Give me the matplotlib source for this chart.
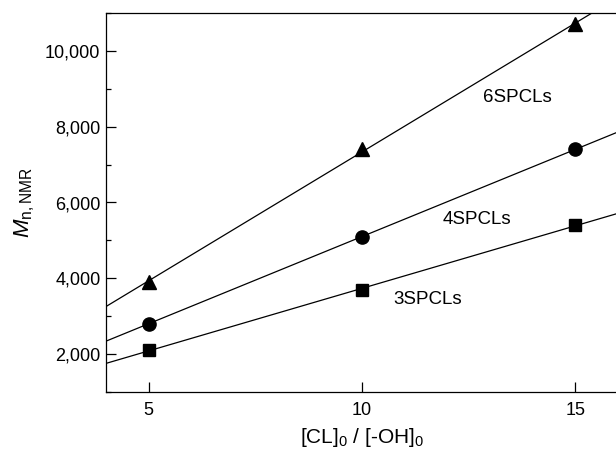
import matplotlib
matplotlib.use("Agg")
import matplotlib.pyplot as plt
import numpy as np
from matplotlib.ticker import FuncFormatter, MultipleLocator

plt.rcParams['font.family'] = ['Liberation Sans', 'DejaVu Sans']
plt.rcParams['mathtext.fontset'] = 'custom'
plt.rcParams['mathtext.rm'] = 'Liberation Sans'
plt.rcParams['mathtext.it'] = 'Liberation Sans:italic'
plt.rcParams['xtick.direction'] = 'in'
plt.rcParams['ytick.direction'] = 'in'

# ratio [CL]0/[-OH]0
ratio = [5, 10, 15]
# Mn,NMR per series
mn_6spcl = [3900, 7400, 10700]
mn_4spcl = [2800, 5100, 7400]
mn_3spcl = [2100, 3700, 5400]
series_names = ['6SPCLs', '4SPCLs', '3SPCLs']
series_markers = ['^', 'o', 's']
label_pos = [(13.65, 8780), (12.7, 5540), (11.55, 3430)]

fig = plt.figure(figsize=(6.16, 4.5), dpi=100)
ax = fig.add_axes([0.172, 0.129, 0.831, 0.842])

xfit = np.array([4.0, 16.0])
for ys, name, mk, pos, ms in zip([mn_6spcl, mn_4spcl, mn_3spcl], series_names,
                                 series_markers, label_pos, [10, 9.5, 8]):
    k, b = np.polyfit(ratio, ys, 1)
    ax.plot(xfit, k * xfit + b, color='black', lw=0.9)
    ax.plot(ratio, ys, linestyle='none', marker=mk, color='black', ms=ms)
    ax.text(pos[0], pos[1], name, fontsize=13.5, ha='center', va='center')

ax.set_xlim(4, 16)
ax.set_ylim(1000, 11000)
ax.set_xticks([5, 10, 15])
ax.yaxis.set_major_locator(MultipleLocator(2000))
ax.yaxis.set_minor_locator(MultipleLocator(1000))
ax.yaxis.set_major_formatter(FuncFormatter(lambda v, p: '{:,.0f}'.format(v)))
ax.tick_params(which='major', direction='in', length=7, width=0.9, labelsize=13)
ax.tick_params(axis='x', which='major', direction='in', pad=7)
ax.tick_params(axis='y', which='major', direction='in', pad=4)
ax.tick_params(which='minor', direction='in', length=3.5, width=0.9)
ax.tick_params(top=False, right=False, which='both')
for s in ax.spines.values():
    s.set_linewidth(0.9)

ax.set_xlabel('[CL]$_0$ / [-OH]$_0$', fontsize=15, labelpad=5)
ax.set_ylabel('$\\mathit{M}_{\\mathrm{n,NMR}}$', fontsize=16, labelpad=6)

fig.savefig('out.png', dpi=100)
